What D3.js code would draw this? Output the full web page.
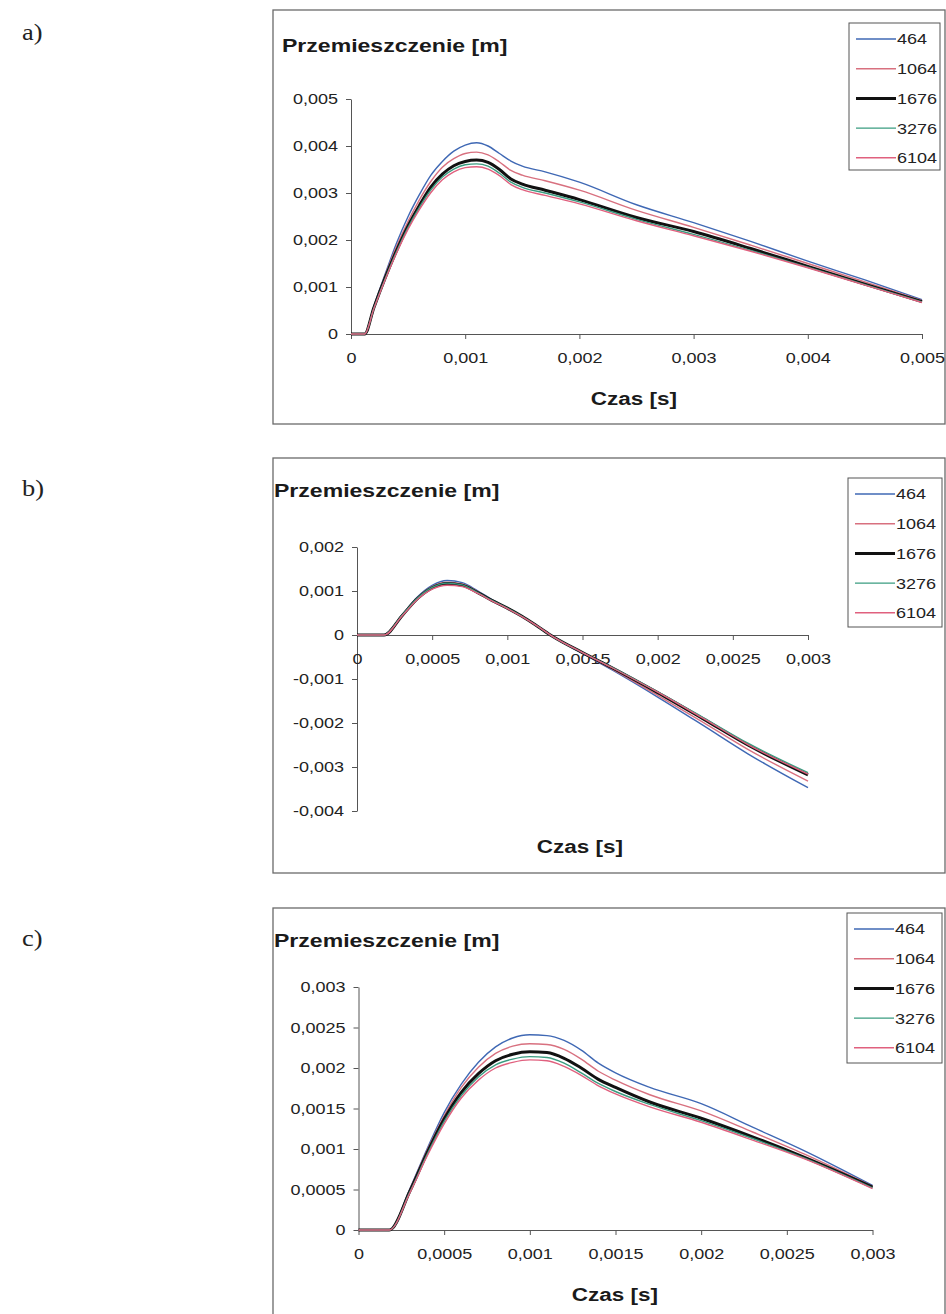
<!DOCTYPE html>
<html><head><meta charset="utf-8">
<script src="https://cdn.jsdelivr.net/npm/d3@7"></script>
<style>body{margin:0;background:#fff}svg{display:block;background:#fff}</style>
</head><body>
<svg id="chart" width="946" height="1314"></svg>
<script>
// ---------- DATA ----------
const seriesNames = ["464", "1064", "1676", "3276", "6104"];
const yAxisTitle = "Przemieszczenie [m]";
const xAxisTitle = "Czas [s]";
const panelLabels = ["a)", "b)", "c)"];

// Panel a
const timeA = [0, 0.0001, 0.00012, 0.0002, 0.0003, 0.0004, 0.0005, 0.0006, 0.0007, 0.0008, 0.0009, 0.001, 0.0011, 0.0012, 0.0013, 0.0014, 0.0015, 0.0017, 0.002, 0.0025, 0.003, 0.0035, 0.004, 0.0045, 0.005];
const a464  = [0, 0, 0, 0.00059, 0.00128, 0.00194, 0.00250, 0.00297, 0.00338, 0.00367, 0.00389, 0.00402, 0.00407, 0.00400, 0.00384, 0.00368, 0.00357, 0.00345, 0.00323, 0.00275, 0.00237, 0.00197, 0.00155, 0.00115, 0.00073];
const a1064 = [0, 0, 0, 0.00058, 0.00125, 0.00187, 0.00240, 0.00286, 0.00325, 0.00355, 0.00373, 0.00384, 0.00387, 0.00381, 0.00366, 0.00348, 0.00338, 0.00326, 0.00306, 0.00263, 0.00227, 0.00189, 0.00150, 0.00111, 0.00071];
const a1676 = [0, 0, 0, 0.00056, 0.00120, 0.00178, 0.00230, 0.00274, 0.00313, 0.00340, 0.00358, 0.00367, 0.00370, 0.00365, 0.00350, 0.00330, 0.00319, 0.00306, 0.00286, 0.00248, 0.00218, 0.00182, 0.00144, 0.00106, 0.00069];
const a3276 = [0, 0, 0, 0.00055, 0.00118, 0.00176, 0.00227, 0.00270, 0.00307, 0.00334, 0.00351, 0.00360, 0.00362, 0.00357, 0.00342, 0.00323, 0.00312, 0.00300, 0.00281, 0.00244, 0.00212, 0.00178, 0.00142, 0.00105, 0.00068];
const a6104 = [0, 0, 0, 0.00054, 0.00116, 0.00173, 0.00223, 0.00265, 0.00301, 0.00328, 0.00345, 0.00354, 0.00356, 0.00351, 0.00337, 0.00318, 0.00307, 0.00295, 0.00277, 0.00241, 0.00209, 0.00176, 0.00141, 0.00104, 0.00067];
const xTicksA = [0, 0.001, 0.002, 0.003, 0.004, 0.005];
const yTicksA = [0, 0.001, 0.002, 0.003, 0.004, 0.005];

// Panel b
const timeB = [0, 0.0001, 0.00018, 0.0003, 0.0004, 0.0005, 0.0006, 0.0007, 0.0008, 0.0009, 0.001, 0.0011, 0.0012, 0.0013, 0.0015, 0.0017, 0.002, 0.0023, 0.0026, 0.003];
const b464  = [0, 0, 0, 0.00046, 0.00086, 0.00113, 0.00124, 0.00119, 0.00101, 0.00080, 0.00062, 0.00042, 0.00020, -0.00003, -0.00042, -0.00080, -0.00141, -0.00205, -0.00270, -0.00347];
const b1064 = [0, 0, 0, 0.00045, 0.00084, 0.00110, 0.00120, 0.00116, 0.00099, 0.00079, 0.00061, 0.00042, 0.00020, -0.00003, -0.00041, -0.00078, -0.00137, -0.00198, -0.00260, -0.00332];
const b1676 = [0, 0, 0, 0.00044, 0.00082, 0.00107, 0.00117, 0.00113, 0.00097, 0.00078, 0.00061, 0.00042, 0.00020, -0.00003, -0.00040, -0.00075, -0.00131, -0.00190, -0.00250, -0.00318];
const b3276 = [0, 0, 0, 0.00045, 0.00083, 0.00108, 0.00118, 0.00114, 0.00097, 0.00078, 0.00061, 0.00042, 0.00020, -0.00003, -0.00040, -0.00074, -0.00129, -0.00187, -0.00246, -0.00313];
const b6104 = [0, 0, 0, 0.00043, 0.00080, 0.00104, 0.00113, 0.00110, 0.00095, 0.00077, 0.00060, 0.00041, 0.00020, -0.00003, -0.00040, -0.00075, -0.00130, -0.00189, -0.00249, -0.00316];
const xTicksB = [0, 0.0005, 0.001, 0.0015, 0.002, 0.0025, 0.003];
const yTicksB = [-0.004, -0.003, -0.002, -0.001, 0, 0.001, 0.002];

// Panel c
const timeC = [0, 0.0001, 0.00018, 0.0003, 0.0004, 0.0005, 0.0006, 0.0007, 0.0008, 0.0009, 0.001, 0.0011, 0.0012, 0.0013, 0.0014, 0.0015, 0.0017, 0.002, 0.0023, 0.0026, 0.003];
const c464  = [0, 0, 0, 0.00051, 0.00100, 0.00145, 0.00180, 0.00207, 0.00226, 0.00237, 0.00241, 0.00240, 0.00234, 0.00222, 0.00206, 0.00194, 0.00176, 0.00156, 0.00127, 0.00098, 0.00055];
const c1064 = [0, 0, 0, 0.00050, 0.00098, 0.00141, 0.00176, 0.00201, 0.00218, 0.00227, 0.00230, 0.00229, 0.00223, 0.00211, 0.00196, 0.00185, 0.00167, 0.00147, 0.00121, 0.00094, 0.00054];
const c1676 = [0, 0, 0, 0.00048, 0.00095, 0.00137, 0.00170, 0.00193, 0.00209, 0.00217, 0.00220, 0.00219, 0.00212, 0.00200, 0.00186, 0.00176, 0.00158, 0.00138, 0.00115, 0.00090, 0.00053];
const c3276 = [0, 0, 0, 0.00047, 0.00093, 0.00134, 0.00166, 0.00189, 0.00204, 0.00211, 0.00214, 0.00213, 0.00206, 0.00194, 0.00181, 0.00171, 0.00155, 0.00135, 0.00113, 0.00089, 0.00052];
const c6104 = [0, 0, 0, 0.00046, 0.00091, 0.00131, 0.00163, 0.00185, 0.00200, 0.00207, 0.00210, 0.00209, 0.00202, 0.00191, 0.00178, 0.00168, 0.00152, 0.00133, 0.00111, 0.00088, 0.00051];
const xTicksC = [0, 0.0005, 0.001, 0.0015, 0.002, 0.0025, 0.003];
const yTicksC = [0, 0.0005, 0.001, 0.0015, 0.002, 0.0025, 0.003];

// ---------- STYLE / LAYOUT ----------
const seriesColors = ["#3f68b4", "#d8707f", "#111111", "#3a9c80", "#e0607e"];
const seriesWidths = [1.4, 1.4, 3, 1.4, 1.4];
const FONT = "'Liberation Sans', Arial, sans-serif";
const TEXT_STRETCH = 1.2;

const panels = [
  { label: panelLabels[0], time: timeA, series: [a464, a1064, a1676, a3276, a6104],
    xDomain: [0, 0.005], yDomain: [0, 0.005], xTicks: xTicksA, yTicks: yTicksA,
    frame: { x: 273, y: 10, w: 672, h: 414 }, xRange: [351, 922], yRange: [334, 99],
    title: { x: 282, y: 52 }, xTitle: { x: 634, y: 405 },
    legend: { x: 849, y: 23, w: 91, h: 147 }, labelPos: { x: 22, y: 40 } },
  { label: panelLabels[1], time: timeB, series: [b464, b1064, b1676, b3276, b6104],
    xDomain: [0, 0.003], yDomain: [-0.004, 0.002], xTicks: xTicksB, yTicks: yTicksB,
    frame: { x: 273, y: 458, w: 672, h: 415 }, xRange: [357, 808], yRange: [811, 547],
    title: { x: 274, y: 497 }, xTitle: { x: 580, y: 853 },
    legend: { x: 848, y: 478, w: 94, h: 149 }, labelPos: { x: 22, y: 496 } },
  { label: panelLabels[2], time: timeC, series: [c464, c1064, c1676, c3276, c6104],
    xDomain: [0, 0.003], yDomain: [0, 0.003], xTicks: xTicksC, yTicks: yTicksC,
    frame: { x: 273, y: 908, w: 672, h: 420 }, xRange: [358.5, 872.5], yRange: [1230, 987],
    title: { x: 274, y: 947 }, xTitle: { x: 615, y: 1301 },
    legend: { x: 847, y: 913, w: 95, h: 150 }, labelPos: { x: 22, y: 946 } }
];

const fmt = d => String(d).replace(".", ",");

function stretch(sel, k) {
  sel.each(function () {
    const w = this.getComputedTextLength();
    if (w > 0) d3.select(this).attr("textLength", w * k).attr("lengthAdjust", "spacingAndGlyphs");
  });
}

const svg = d3.select("#chart");

panels.forEach(p => {
  const g = svg.append("g");

  // panel label
  const lab = g.append("text").attr("x", p.labelPos.x).attr("y", p.labelPos.y)
    .attr("font-family", "'Liberation Serif','Times New Roman',serif").attr("font-size", 24)
    .attr("fill", "#222").text(p.label);
  stretch(lab, 1.1);

  // frame
  g.append("rect").attr("x", p.frame.x).attr("y", p.frame.y).attr("width", p.frame.w).attr("height", p.frame.h)
    .attr("fill", "none").attr("stroke", "#6a6a6a").attr("stroke-width", 1.3);

  const x = d3.scaleLinear().domain(p.xDomain).range(p.xRange);
  const y = d3.scaleLinear().domain(p.yDomain).range(p.yRange);

  // y axis
  const ya = g.append("g").attr("transform", `translate(${p.xRange[0]},0)`)
    .call(d3.axisLeft(y).tickValues(p.yTicks).tickFormat(fmt).tickSize(5).tickSizeOuter(0).tickPadding(8));
  // x axis at y = 0
  const xa = g.append("g").attr("transform", `translate(0,${y(0)})`)
    .call(d3.axisBottom(x).tickValues(p.xTicks).tickFormat(fmt).tickSize(5).tickSizeOuter(0).tickPadding(13));
  [ya, xa].forEach(a => {
    a.select(".domain").attr("stroke", "#555").attr("stroke-width", 1);
    a.selectAll(".tick line").attr("stroke", "#555");
    a.selectAll(".tick text").attr("font-family", FONT).attr("font-size", 15).attr("fill", "#222");
    stretch(a.selectAll(".tick text"), TEXT_STRETCH);
  });

  // lines
  const line = d3.line().x((d, i) => x(p.time[i])).y(d => y(d)).curve(d3.curveMonotoneX);
  p.series.forEach((s, k) => {
    g.append("path").datum(s).attr("d", line).attr("fill", "none")
      .attr("stroke", seriesColors[k]).attr("stroke-width", seriesWidths[k])
      .attr("stroke-linejoin", "round");
  });

  // titles
  const t1 = g.append("text").attr("x", p.title.x).attr("y", p.title.y)
    .attr("font-family", FONT).attr("font-weight", "bold").attr("font-size", 18).attr("fill", "#1a1a1a")
    .text(yAxisTitle);
  stretch(t1, 1.28);
  const t2 = g.append("text").attr("x", p.xTitle.x).attr("y", p.xTitle.y).attr("text-anchor", "middle")
    .attr("font-family", FONT).attr("font-weight", "bold").attr("font-size", 18).attr("fill", "#1a1a1a")
    .text(xAxisTitle);
  stretch(t2, 1.25);

  // legend
  const L = p.legend;
  g.append("rect").attr("x", L.x).attr("y", L.y).attr("width", L.w).attr("height", L.h)
    .attr("fill", "#fff").attr("stroke", "#555").attr("stroke-width", 1);
  seriesNames.forEach((name, k) => {
    const yy = L.y + 16 + k * 29.7;
    g.append("line").attr("x1", L.x + 7).attr("x2", L.x + 47).attr("y1", yy).attr("y2", yy)
      .attr("stroke", seriesColors[k]).attr("stroke-width", seriesWidths[k]);
    const tt = g.append("text").attr("x", L.x + 48).attr("y", yy).attr("dy", "0.36em")
      .attr("font-family", FONT).attr("font-size", 15).attr("fill", "#222").text(name);
    stretch(tt, TEXT_STRETCH);
  });
});
</script>
</body></html>
